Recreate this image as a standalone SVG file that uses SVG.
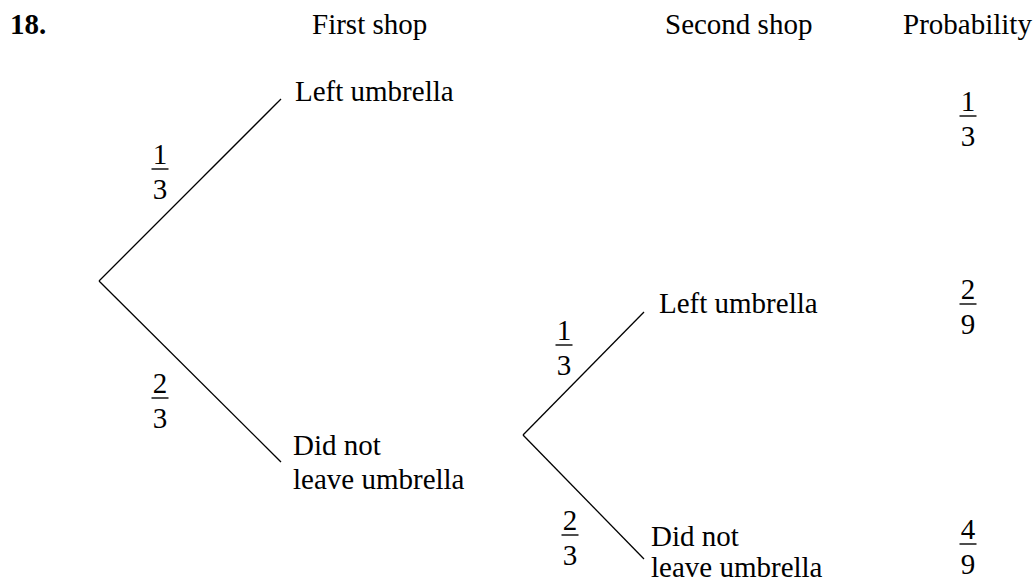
<svg xmlns="http://www.w3.org/2000/svg" width="1034" height="579" viewBox="0 0 1034 579">
  <style>
    .t { font-family: "Times New Roman", "Liberation Serif", Times, serif; font-size: 29px; fill: #000; }
    .num { text-anchor: middle; }
    .bold { font-weight: bold; }
    .branch { stroke: #000; stroke-width: 1.3; fill: none; }
    .bar { stroke: #000; stroke-width: 1.4; }
  </style>
  <defs>
    <!-- fraction bar, centred on the origin -->
    <line id="fbar" class="bar" x1="-8.5" y1="0" x2="8.5" y2="0"/>
  </defs>
  <rect width="1034" height="579" fill="#fff"/>

  <!-- column headings -->
  <g id="headings" class="t">
    <text class="bold" x="10" y="34">18.</text>
    <text x="312" y="34">First shop</text>
    <text x="665" y="34">Second shop</text>
    <text x="903" y="34">Probability</text>
  </g>

  <!-- tree branches -->
  <g id="connectors">
    <line class="branch" x1="99" y1="281" x2="281" y2="99"/>
    <line class="branch" x1="99" y1="281" x2="281" y2="462"/>
    <line class="branch" x1="523" y1="435" x2="644" y2="312"/>
    <line class="branch" x1="523" y1="435" x2="644" y2="559"/>
  </g>

  <!-- branch probabilities -->
  <g id="branch-labels" class="t">
    <g transform="translate(160,169)">
      <text class="num" x="0" y="-5">1</text><use href="#fbar"/><text class="num" x="0" y="30">3</text>
    </g>
    <g transform="translate(160,398)">
      <text class="num" x="0" y="-5">2</text><use href="#fbar"/><text class="num" x="0" y="30">3</text>
    </g>
    <g transform="translate(564,345)">
      <text class="num" x="0" y="-5">1</text><use href="#fbar"/><text class="num" x="0" y="30">3</text>
    </g>
    <g transform="translate(570,535)">
      <text class="num" x="0" y="-5">2</text><use href="#fbar"/><text class="num" x="0" y="30">3</text>
    </g>
  </g>

  <!-- outcome nodes -->
  <g id="node-first-left" class="t">
    <text x="295" y="101">Left umbrella</text>
  </g>
  <g id="node-first-kept" class="t">
    <text x="293" y="455">Did not</text>
    <text x="293" y="489">leave umbrella</text>
  </g>
  <g id="node-second-left" class="t">
    <text x="659" y="313">Left umbrella</text>
  </g>
  <g id="node-second-kept" class="t">
    <text x="651" y="546">Did not</text>
    <text x="651" y="577">leave umbrella</text>
  </g>

  <!-- outcome probabilities -->
  <g id="probabilities" class="t">
    <g transform="translate(968,116)">
      <text class="num" x="0" y="-5">1</text><use href="#fbar"/><text class="num" x="0" y="30">3</text>
    </g>
    <g transform="translate(968,304)">
      <text class="num" x="0" y="-5">2</text><use href="#fbar"/><text class="num" x="0" y="30">9</text>
    </g>
    <g transform="translate(968,544)">
      <text class="num" x="0" y="-5">4</text><use href="#fbar"/><text class="num" x="0" y="30">9</text>
    </g>
  </g>
</svg>
